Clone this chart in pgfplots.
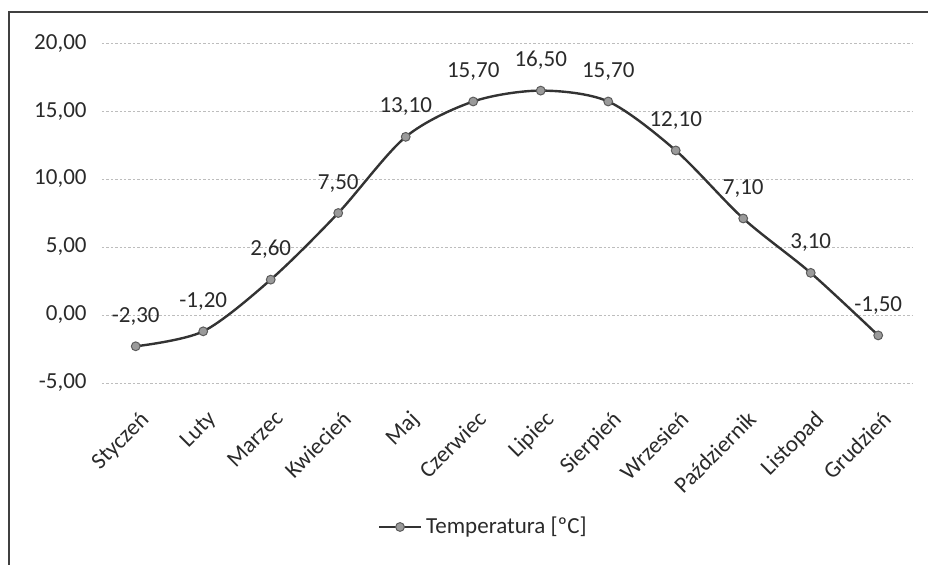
\documentclass[border=0pt]{standalone}
\usepackage{pgfplots}
\pgfplotsset{compat=1.18}
\usepackage{fontspec}
\setmainfont{Carlito}
\definecolor{txt}{HTML}{2A2A2A}
\definecolor{lin}{HTML}{333333}
\definecolor{mk}{HTML}{9A9A9A}
\definecolor{grd}{HTML}{BDBDBD}
\begin{document}
\begin{tikzpicture}
\begin{axis}[
  scale only axis, width=405pt, height=170pt,
  font=\fontsize{11.5}{13}\selectfont, color=txt,
  xmin=-0.5, xmax=11.5, ymin=-5, ymax=20,
  xtick={0,...,11},
  xticklabels={Styczeń,Luty,Marzec,Kwiecień,Maj,Czerwiec,Lipiec,Sierpień,Wrzesień,Październik,Listopad,Grudzień},
  xticklabel style={yshift=-13pt, xshift=1.5pt, rotate=45, anchor=north east, inner sep=0pt},
  ytick={-5,0,...,20},
  yticklabel style={anchor=east, inner sep=0pt, xshift=-7.5pt},
  /pgf/number format/.cd, assume math mode=true, use comma, fixed, fixed zerofill, precision=2,
  /pgfplots/.cd,
  axis line style={draw=none}, major tick style={draw=none},
  ymajorgrids, grid style={grd, line width=0.5pt, dash pattern=on 1.2pt off 1pt},
  legend style={draw=none, fill=none, at={(rel axis cs:0.472,-0.4235)}, anchor=center, font=\fontsize{11.5}{13}\selectfont, text=txt},
  legend image code/.code={\draw[mark repeat=2, mark phase=2] plot coordinates {(0pt,0pt) (10.5pt,0pt) (21pt,0pt)};},
  clip=false,
]
\addplot[smooth, color=lin, line width=1.2pt, mark=*, mark size=2.2pt,
  mark options={fill=mk, draw=lin!80, line width=0.5pt},
  nodes near coords,
  every node near coord/.style={anchor=base, inner sep=0pt, yshift=12pt, text=txt, font=\fontsize{11.5}{13}\selectfont}]
  coordinates {(0,-2.3) (1,-1.2) (2,2.6) (3,7.5) (4,13.1) (5,15.7) (6,16.5) (7,15.7) (8,12.1) (9,7.1) (10,3.1) (11,-1.5)};
\addlegendentry{Temperatura [ºC]}
\coordinate (bl) at (rel axis cs:-0.1259,-0.5353);
\coordinate (tr) at (rel axis cs:1.0198,1.1265);
\coordinate (fb) at (rel axis cs:-0.1148,-0.60);
\coordinate (ft) at (rel axis cs:-0.1148,1.0912);
\coordinate (fr) at (rel axis cs:1.05,1.0912);
\end{axis}
\draw[black!75, line width=1.3pt] (fb) -- (ft) -- (fr);
\pgfresetboundingbox
\path (bl) rectangle (tr);
\end{tikzpicture}
\end{document}
